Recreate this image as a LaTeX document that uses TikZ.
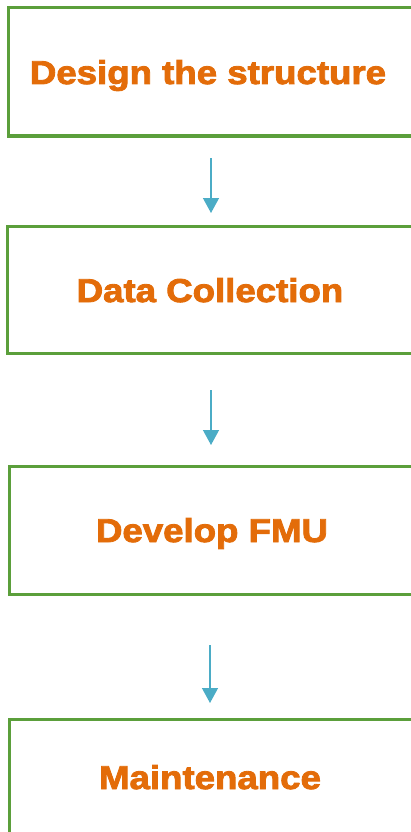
\documentclass[tikz,border=0pt]{standalone}
\usepackage{fontspec}
\setmainfont{Liberation Sans}
\newfontfamily\heavyfont{Liberation Sans Bold}[FakeStretch=1.11, FakeBold=2.6]
\usetikzlibrary{arrows.meta}
\definecolor{boxgreen}{HTML}{5B9F3B}
\definecolor{txtorange}{HTML}{E36C09}
\definecolor{arrcyan}{HTML}{4BACC6}
\tikzset{
  stepbox/.style={draw=boxgreen, line width=3pt},
  lbl/.style={text=txtorange, font=\fontsize{33}{38}\heavyfont, inner sep=0pt, anchor=base},
  flow/.style={draw=arrcyan, line width=1.3pt, -{Triangle[length=15pt,width=16pt]}}
}
\begin{document}
\begin{tikzpicture}[x=1pt,y=-1pt]
\useasboundingbox (0,0) rectangle (411,832);
\begin{scope}
\clip (0,0) rectangle (411,832);
\draw[stepbox] (8,8) rectangle (420,136);
\draw[stepbox] (7,226) rectangle (420,353);
\draw[stepbox] (9,466) rectangle (420,594);
\draw[stepbox] (9,719) rectangle (420,840);
\end{scope}
\node[lbl] (t1) at (208,84) {Design the structure};
\node[lbl] (t2) at (210,302) {Data Collection};
\node[lbl] (t3) at (212,542) {Develop FMU};
\node[lbl] (t4) at (210,789) {Maintenance};
\coordinate (a1s) at (211,158); \coordinate (a1e) at (211,213);
\coordinate (a2s) at (211,390); \coordinate (a2e) at (211,445);
\coordinate (a3s) at (210,645); \coordinate (a3e) at (210,703);
\draw[flow] (a1s) -- (a1e);
\draw[flow] (a2s) -- (a2e);
\draw[flow] (a3s) -- (a3e);
\end{tikzpicture}
\end{document}
